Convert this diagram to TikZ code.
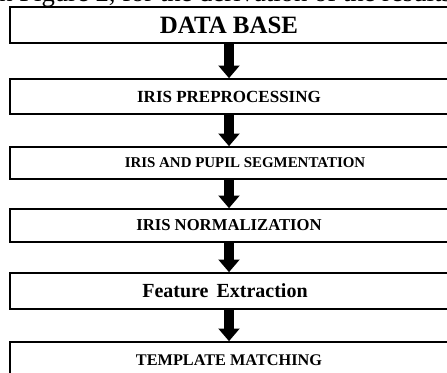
\documentclass[tikz,border=0pt]{standalone}
\usepackage{fontspec}
\setmainfont{Liberation Serif}
\usepackage{tikz}
\usetikzlibrary{arrows.meta,positioning}
\newcommand{\boxfont}[1]{\fontsize{#1}{#1}\selectfont\bfseries}

\begin{document}
\begin{tikzpicture}[x=0.75pt,y=-0.75pt,
  stage/.style={draw,line width=1.2pt,inner sep=0pt,minimum width=328.5pt,minimum height=26pt},
  flow/.style={line width=7pt,-{Triangle[width=15.5pt,length=9.5pt]}}]
  \useasboundingbox (0,0) rectangle (447,373);
  \clip (0,0) rectangle (447,373);
  % running text of the page above the chart
  \node[anchor=base west,inner sep=0pt,font=\fontsize{20}{22}\selectfont] (prose) at (-1,1.5)
    {n Figure 2, for the derivation of the results};
  % the stages
  \node[stage,minimum height=27pt,font=\boxfont{18.7}] (db) at (229,25) {DATA BASE};
  \node[stage,minimum height=26.25pt,font=\boxfont{12.75}] (pre) at (229,96.5) {IRIS PREPROCESSING};
  \node[stage,minimum height=24pt,font=\boxfont{11.2}] (seg) at (229,163) {\hspace*{24pt}IRIS AND PUPIL SEGMENTATION};
  \node[stage,minimum height=24.75pt,font=\boxfont{12.5}] (norm) at (229,225.5) {IRIS NORMALIZATION};
  \node[stage,minimum height=27pt,font=\boxfont{15}] (feat) at (229,291) {Feature\hspace{0.4em}Extraction\hspace*{6pt}};
  \node[stage,minimum height=27pt,font=\boxfont{12.2}] (match) at (229,360) {TEMPLATE MATCHING};
  % arrows between the stages
  \draw[flow] (db.south) -- (pre.north);
  \draw[flow] (pre.south) -- (seg.north);
  \draw[flow] (seg.south) -- (norm.north);
  \draw[flow] (norm.south) -- (feat.north);
  \draw[flow] (feat.south) -- (match.north);
\end{tikzpicture}
\end{document}
